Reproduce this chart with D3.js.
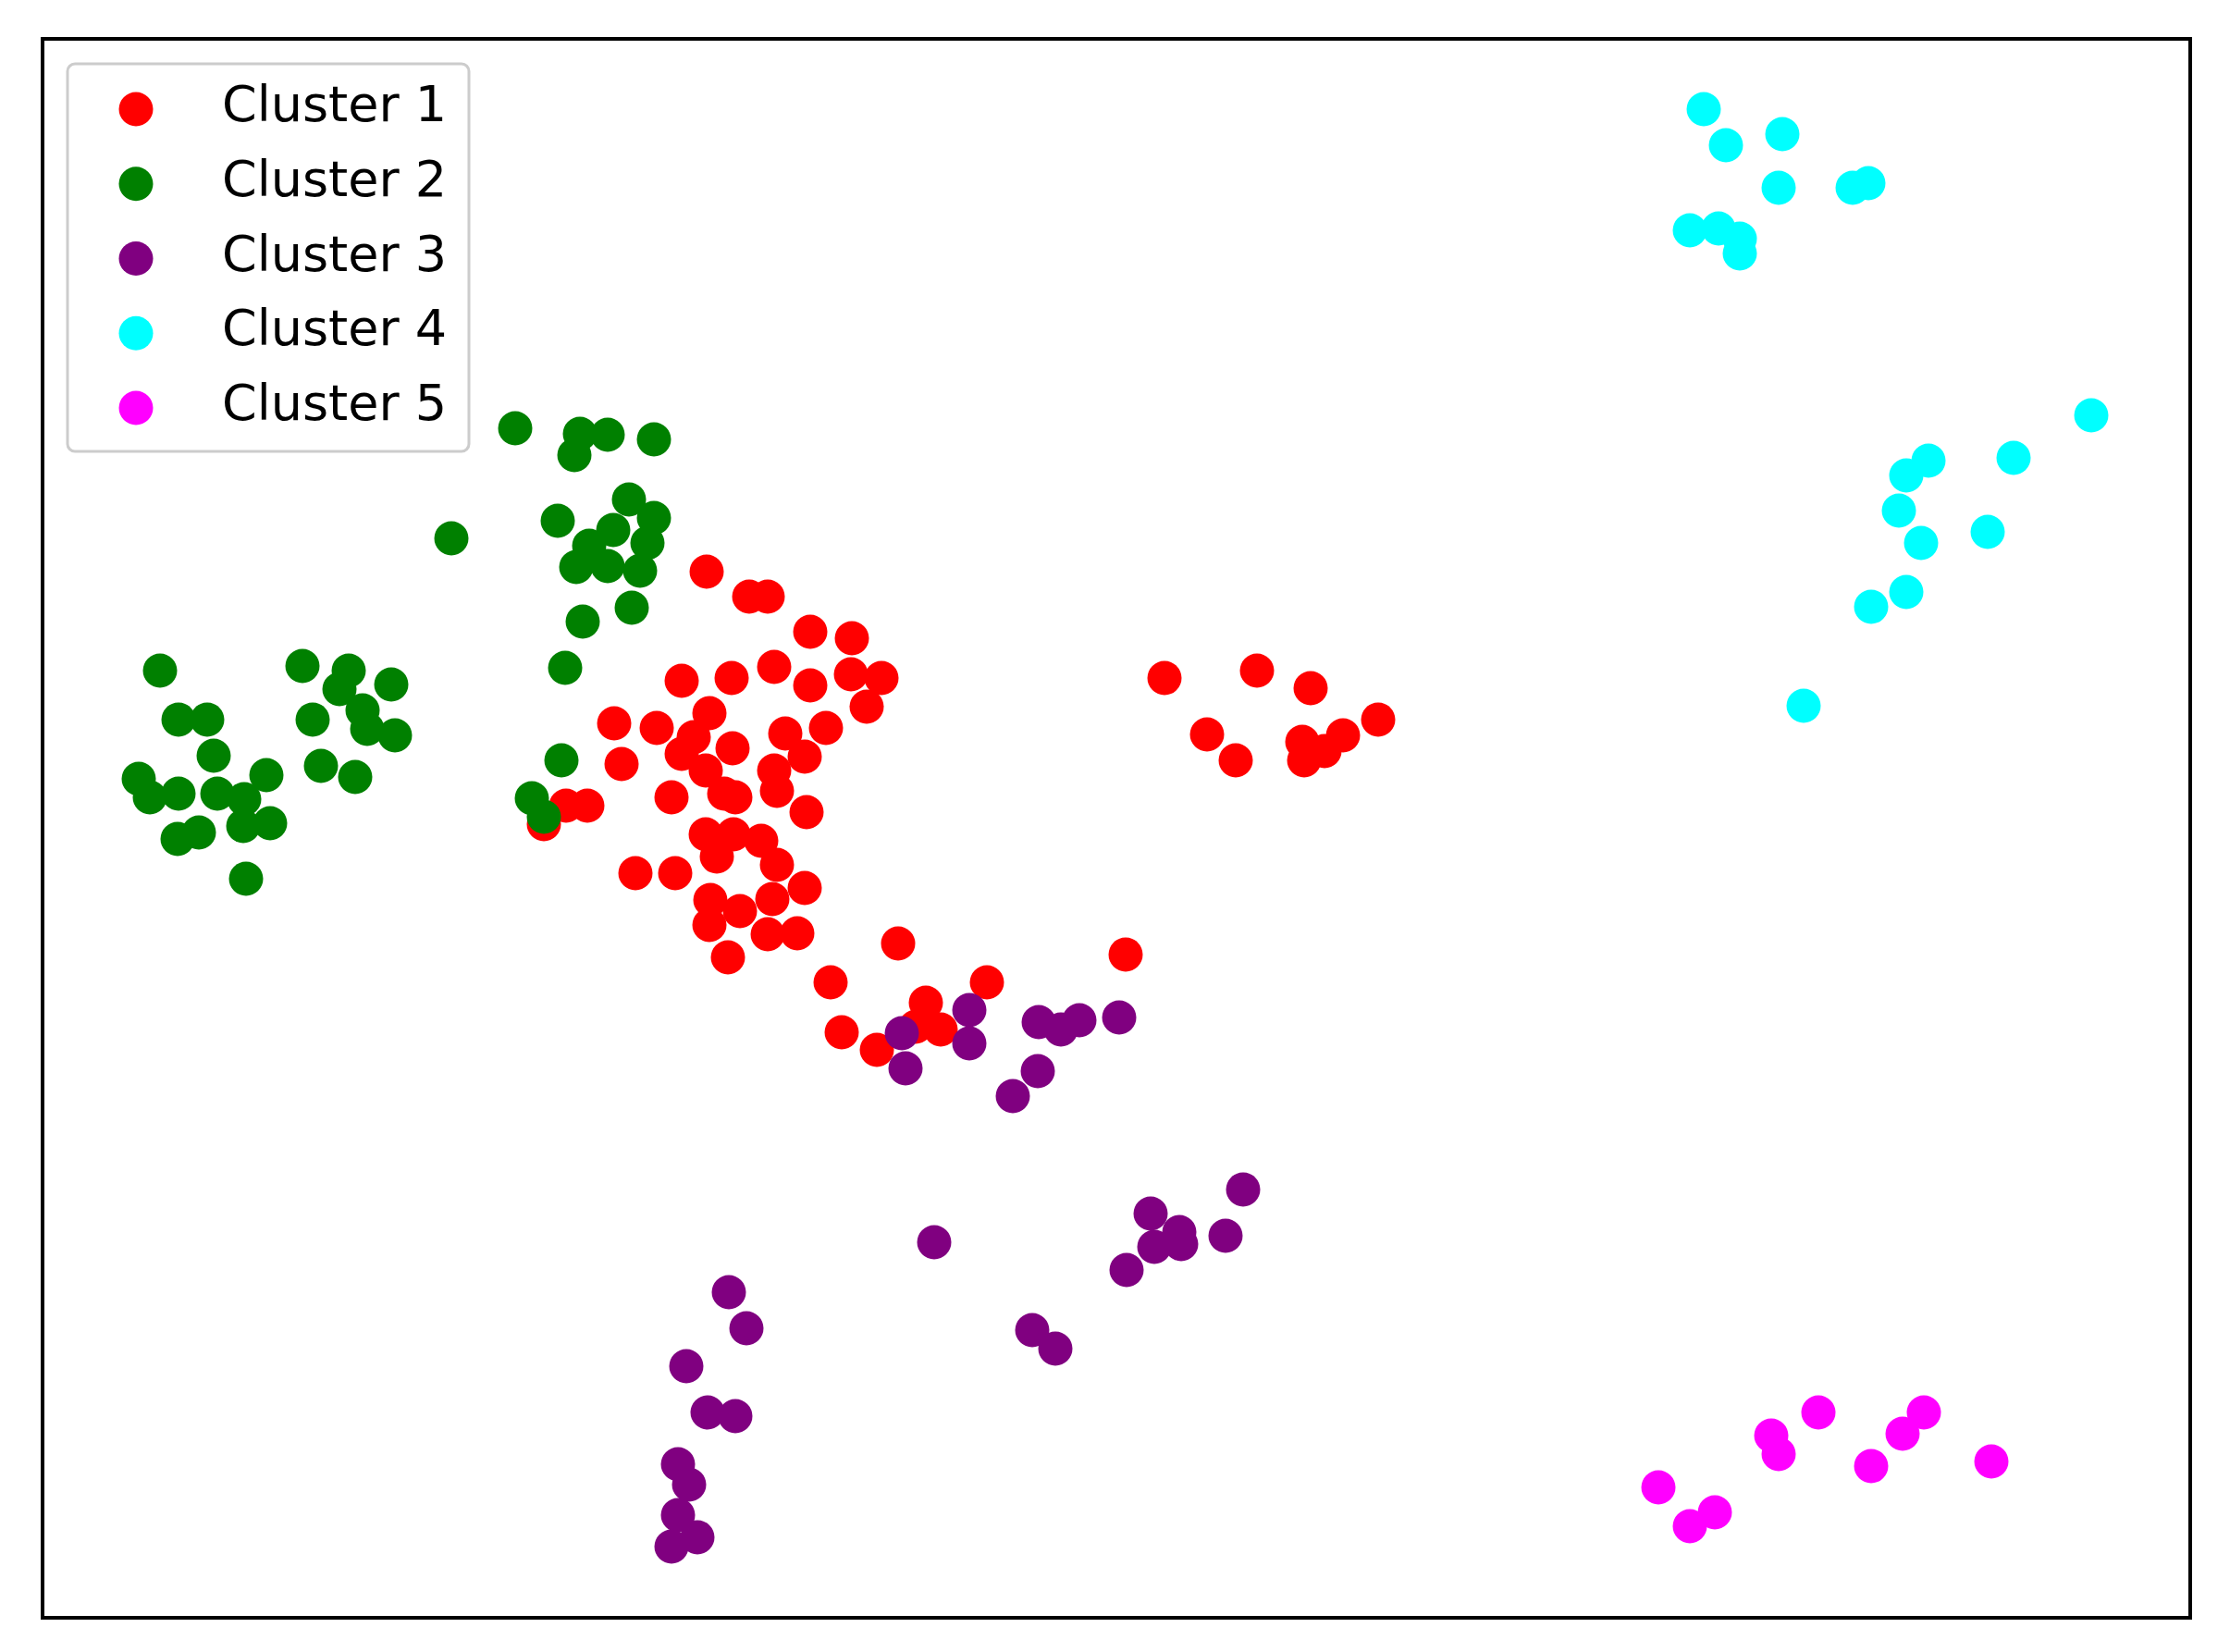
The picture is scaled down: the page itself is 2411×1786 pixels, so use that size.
<!DOCTYPE html>
<html><head><meta charset="utf-8">
<script src="https://cdn.jsdelivr.net/npm/d3@7"></script>
<style>html,body{margin:0;padding:0;background:#fff;}</style>
</head><body>
<script>
const clusterNames = ["Cluster 1","Cluster 2","Cluster 3","Cluster 4","Cluster 5"];
const clusterColors = ["#ff0000","#008000","#800080","#00ffff","#ff00ff"];

const cluster1 = [[71.8,113.1],[76.4,110.4],[78.4,110.4],[83.0,106.6],[87.5,105.9],[69.1,101.3],[74.5,101.6],[79.1,102.8],[83.0,100.8],[87.4,102.0],[90.7,101.6],[89.1,98.5],[61.8,96.7],[66.4,96.2],[72.1,97.8],[74.6,94.0],[62.6,92.3],[69.1,93.4],[71.7,91.6],[73.7,89.1],[74.9,88.7],[80.3,95.6],[84.7,96.2],[82.4,93.1],[79.1,91.6],[79.4,89.4],[82.6,87.1],[68.0,88.7],[56.6,87.8],[58.9,87.8],[54.2,85.8],[71.7,84.7],[74.7,84.7],[77.7,84.0],[79.4,81.4],[72.9,82.3],[64.1,80.5],[68.4,80.5],[72.2,77.6],[75.4,76.4],[78.9,77.7],[82.4,78.9],[72.1,74.9],[78.4,73.9],[81.6,74.0],[74.1,71.4],[85.2,68.7],[92.5,72.9],[86.4,63.3],[90.2,61.4],[95.5,66.5],[97.1,63.6],[94.4,63.9],[102.1,68.7],[117.1,71.7],[121.3,101.6],[131.3,102.4],[137.1,100.5],[125.9,95.5],[129.0,92.7],[136.2,94.7],[136.4,92.7],[138.6,93.7],[140.6,95.4],[144.4,97.1],[70.4,95.2]];
const cluster2 = [[12.7,102.4],[14.7,97.1],[17.8,97.1],[18.5,93.2],[10.4,90.7],[11.6,88.7],[14.7,89.1],[18.9,89.1],[24.2,91.1],[21.8,88.5],[21.7,85.6],[24.6,85.9],[14.6,84.2],[16.9,84.9],[22.0,79.9],[28.1,102.9],[33.1,102.4],[32.1,100.4],[37.7,100.9],[29.2,97.1],[34.6,98.1],[35.1,96.1],[38.1,95.4],[30.1,92.1],[33.8,90.9],[51.1,128.6],[58.1,128.0],[61.1,127.9],[57.5,125.7],[66.1,127.4],[44.2,116.7],[55.7,118.6],[63.4,120.9],[66.1,118.9],[61.7,117.6],[65.4,116.2],[59.1,115.9],[57.7,113.6],[61.1,113.7],[64.6,113.2],[63.7,109.2],[58.4,107.7],[56.5,102.7],[56.1,92.7],[52.9,88.6],[54.2,86.6]];
const cluster3 = [[92.9,63.2],[93.3,59.4],[100.2,65.7],[100.2,62.1],[107.7,64.4],[110.1,63.6],[112.1,64.6],[116.4,64.9],[107.6,59.1],[104.9,56.4],[96.4,40.6],[129.8,46.3],[119.8,43.7],[122.9,41.7],[123.1,40.4],[120.2,40.1],[127.9,41.3],[117.2,37.6],[107.0,31.1],[109.5,29.1],[74.2,35.2],[76.1,31.3],[69.6,27.2],[71.9,22.2],[74.9,21.8],[68.7,16.6],[69.9,14.4],[68.7,11.1],[70.8,8.7],[68.0,7.7]];
const cluster4 = [[179.6,163.1],[182.0,159.2],[188.1,160.4],[187.7,154.6],[195.7,154.6],[197.4,155.1],[178.1,150.0],[181.2,150.2],[183.5,149.1],[183.5,147.5],[221.5,130.0],[213.1,125.4],[203.9,125.1],[201.5,123.5],[200.7,119.7],[203.1,116.2],[210.3,117.4],[201.5,110.9],[197.7,109.3],[190.4,98.6]];
const cluster5 = [[174.7,14.1],[178.1,9.9],[180.8,11.4],[186.9,19.7],[187.7,17.7],[192.0,22.2],[197.7,16.4],[201.1,19.9],[203.4,22.2],[210.7,16.9]];
const clusters = [cluster1, cluster2, cluster3, cluster4, cluster5];

const W = 2411, H = 1786;
const plot = {left: 46, top: 42, right: 2368, bottom: 1749};
const svg = d3.select("body").append("svg").attr("width", W).attr("height", H);
svg.append("rect").attr("width", W).attr("height", H).attr("fill", "#fff");

const x = d3.scaleLinear().domain([0, 232.2]).range([plot.left, plot.right]);
const y = d3.scaleLinear().domain([0, 170.7]).range([plot.bottom, plot.top]);

clusters.forEach((pts, i) => {
  svg.append("g").selectAll("circle").data(pts).join("circle")
    .attr("cx", d => x(d[0])).attr("cy", d => y(d[1]))
    .attr("r", 18.5).attr("fill", clusterColors[i]);
});

svg.append("rect").attr("x", plot.left).attr("y", plot.top)
  .attr("width", plot.right - plot.left).attr("height", plot.bottom - plot.top)
  .attr("fill", "none").attr("stroke", "#000").attr("stroke-width", 4);

// legend
const lg = svg.append("g");
lg.append("rect").attr("x", 73).attr("y", 69).attr("width", 434).attr("height", 419)
  .attr("rx", 8).attr("fill", "#fff").attr("fill-opacity", 0.8)
  .attr("stroke", "#cccccc").attr("stroke-width", 3);
clusterNames.forEach((name, i) => {
  const cy = 118 + i * 80.75;
  lg.append("circle").attr("cx", 147).attr("cy", cy).attr("r", 18.5).attr("fill", clusterColors[i]);
  lg.append("text").attr("x", 240).attr("y", cy + 13)
    .attr("font-family", "DejaVu Sans").attr("font-size", 54).attr("fill", "#000")
    .text(name);
});
</script>
</body></html>
